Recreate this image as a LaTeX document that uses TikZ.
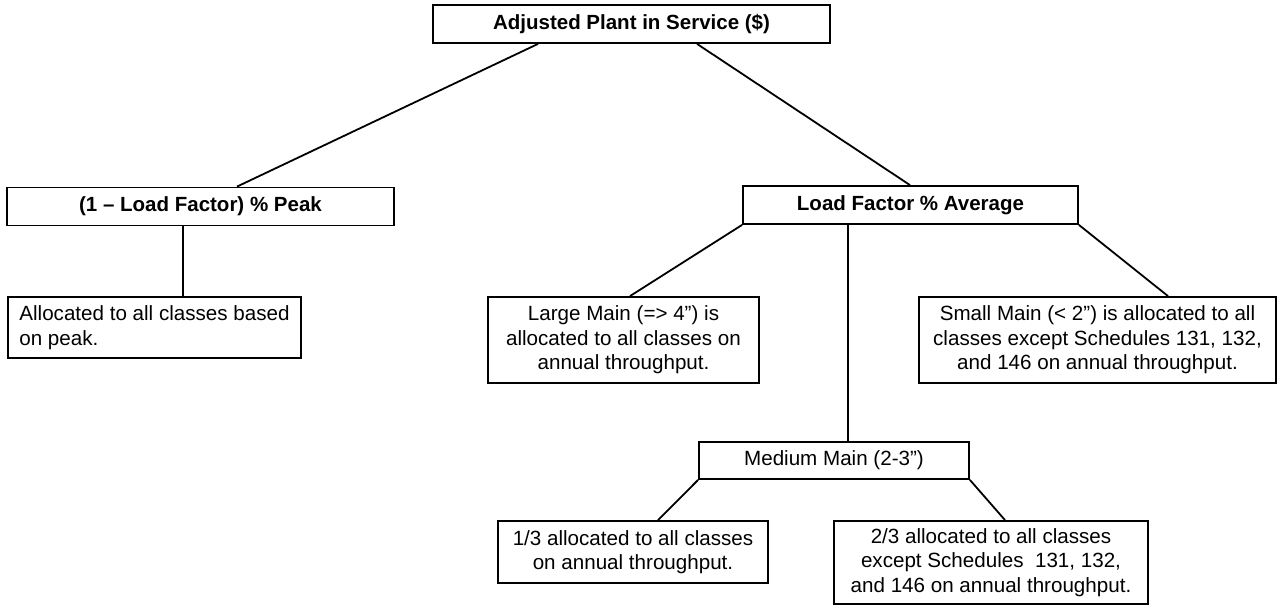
\documentclass[tikz,border=0pt]{standalone}
\usepackage{fontspec}
\setmainfont{Liberation Sans}
\usetikzlibrary{calc}
\tikzset{
  box/.style={draw=black, line width=1.8pt, fill=white, inner sep=0pt, align=center,
    font=\fontsize{20.6}{24.5}\selectfont},
  bbox/.style={box, font=\fontsize{20.5}{24.5}\selectfont\bfseries},
  link/.style={line width=1.8pt, draw=black},
}
\begin{document}
\begin{tikzpicture}[x=1pt,y=-1pt]
\useasboundingbox (0,0) rectangle (1278,607);
\node[bbox, minimum width=397, minimum height=38] (top) at (631.5,24) {Adjusted Plant in Service (\$)};
\node[bbox, minimum width=387, minimum height=38] (peak) at (200.5,206.5) {(1 -- Load Factor) \% Peak};
\node[bbox, minimum width=335, minimum height=38] (avg) at (910.5,205) {Load Factor \% Average};
\node[box, minimum width=293, minimum height=61, align=left] (alloc) at (154.5,327.5) {Allocated to all classes based\\on peak.};
\node[box, minimum width=271, minimum height=86] (large) at (623.5,340) {Large Main (=> 4”) is\\allocated to all classes on\\annual throughput.};
\node[box, minimum width=357, minimum height=86] (small) at (1097.5,340) {Small Main (< 2”) is allocated to all\\classes except Schedules 131, 132,\\and 146 on annual throughput.};
\node[box, minimum width=270, minimum height=37] (medium) at (834,460.5) {Medium Main (2-3”)};
\node[box, minimum width=270, minimum height=62] (third) at (633,552) {1/3 allocated to all classes\\on annual throughput.};
\node[box, minimum width=314, minimum height=83] (twothird) at (991,562.5) {2/3 allocated to all classes\\except Schedules\ \ 131, 132,\\and 146 on annual throughput.};

\draw[link] ([xshift=-93.5]top.south) -- ([xshift=36.5]peak.north);
\draw[link] ([xshift=65.5]top.south) -- ([xshift=-0.5]avg.north);
\draw[link] ([xshift=-17.5]peak.south) -- ([xshift=28.5]alloc.north);
\draw[link] (avg.south west) -- ([xshift=6.5]large.north);
\draw[link] ([xshift=-62.5]avg.south) -- ([xshift=14]medium.north);
\draw[link] (avg.south east) -- ([xshift=70.5]small.north);
\draw[link] (medium.south west) -- ([xshift=25]third.north);
\draw[link] (medium.south east) -- ([xshift=14]twothird.north);
\end{tikzpicture}
\end{document}
